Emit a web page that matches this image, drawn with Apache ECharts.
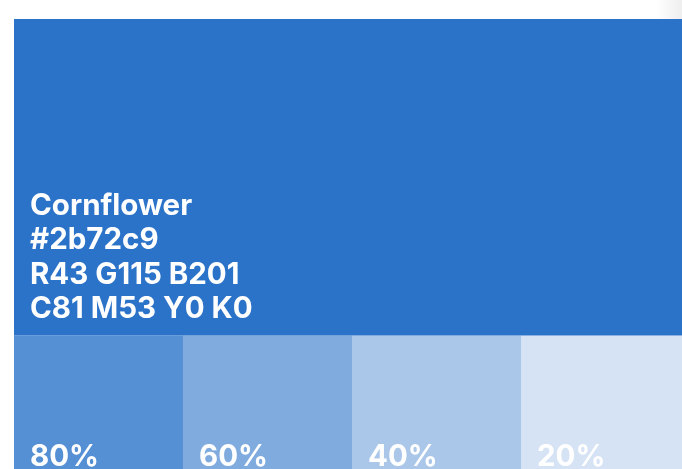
<!DOCTYPE html>
<html><head><meta charset="utf-8">
<script src="https://cdn.jsdelivr.net/npm/echarts@6/dist/echarts.min.js"></script>
<style>html,body{margin:0;padding:0;background:#fff}#c{width:682px;height:469px}</style>
</head><body><div id="c"></div>
<script>
// ---- data ----
const colorName = 'Cornflower';
const baseHex = '#2b72c9';
const baseRGB = [43, 115, 201];
const baseCMYK = [81, 53, 0, 0];
const tintLabels = ['80%', '60%', '40%', '20%'];
const tintPercents = [80, 60, 40, 20];

// ---- helpers ----
function tint(rgb, p) {
  const f = p / 100;
  const c = rgb.map(v => Math.round(v * f + 255 * (1 - f)));
  return 'rgb(' + c.join(',') + ')';
}
const TOTAL_H = 450, TINT_H = 133.5;
const FONT = 'bold 29.5px Inter, Lato, sans-serif';
const mainText = [
  colorName,
  baseHex,
  'R' + baseRGB[0] + ' G' + baseRGB[1] + ' B' + baseRGB[2],
  'C' + baseCMYK[0] + ' M' + baseCMYK[1] + ' Y' + baseCMYK[2] + ' K' + baseCMYK[3]
].join('\n');

const chart = echarts.init(document.getElementById('c'), null, {renderer: 'canvas'});
chart.setOption({
  animation: false,
  backgroundColor: '#ffffff',
  grid: {left: 14, width: 676, top: 19, height: TOTAL_H, containLabel: false, outerBoundsMode: 'none'},
  xAxis: {type: 'category', data: tintLabels, show: false, boundaryGap: true},
  yAxis: {type: 'value', min: 0, max: TOTAL_H, show: false},
  graphic: [{
    type: 'rect', right: 0, top: 0, z: -1,
    shape: {width: 26, height: 19},
    style: {fill: new echarts.graphic.LinearGradient(0, 0, 1, 0, [
      {offset: 0, color: 'rgba(238,238,238,0)'},
      {offset: 1, color: 'rgba(238,238,238,1)'}
    ])}
  }],
  series: [
    {
      type: 'bar', stack: 'sw', barCategoryGap: '0%', silent: true,
      data: tintPercents.map(p => ({value: TINT_H, itemStyle: {color: tint(baseRGB, p)}}))
    },
    {
      type: 'bar', stack: 'sw', barCategoryGap: '0%', silent: true,
      data: tintPercents.map(() => ({value: TOTAL_H - TINT_H, itemStyle: {color: baseHex}}))
    },
    {
      type: 'custom', z: 10, silent: true,
      data: tintLabels.map((l, i) => [i, 0]),
      renderItem: function (params, api) {
        const i = api.value(0);
        const pt = api.coord([i, 0]);
        const bw = api.size([1, 0])[0];
        return {
          type: 'text',
          x: pt[0] - bw / 2 + 16, y: pt[1] - 12,
          style: {text: tintLabels[i], fill: '#ffffff', font: FONT,
                  align: 'left', verticalAlign: 'middle'}
        };
      }
    },
    {
      type: 'custom', z: 11, silent: true,
      data: [[0, TINT_H]],
      renderItem: function (params, api) {
        const pt = api.coord([api.value(0), api.value(1)]);
        const bw = api.size([1, 0])[0];
        return {
          type: 'text',
          x: pt[0] - bw / 2 + 16, y: pt[1] - 146.5,
          style: {text: mainText, fill: '#ffffff', font: FONT,
                  lineHeight: 34.3, align: 'left', verticalAlign: 'top'}
        };
      }
    }
  ]
});
</script>
</body></html>
